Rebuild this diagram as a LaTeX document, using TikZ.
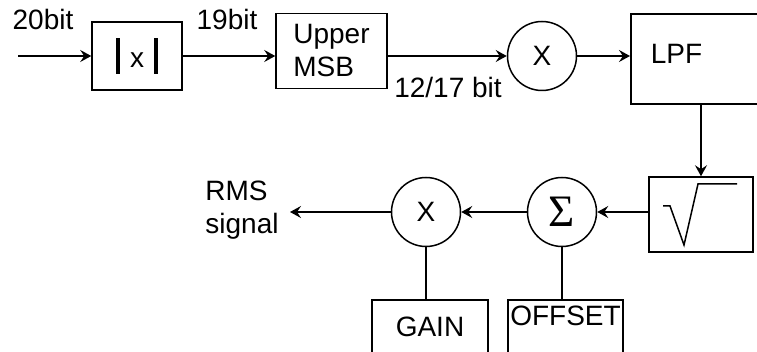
\documentclass[tikz,border=0pt]{standalone}
\usepackage{fontspec}
\setmainfont{Liberation Sans}
\newfontfamily\sigmafont{Liberation Serif}
\usetikzlibrary{arrows.meta}

\begin{document}
\begin{tikzpicture}[x=1pt,y=-1pt,line width=1.5pt,>={Stealth[length=11pt,width=12pt,inset=4pt]},
  font=\fontsize{28}{33}\selectfont,
  blk/.style={draw,inner sep=0pt},
  mix/.style={draw,circle,minimum size=69pt,inner sep=0pt}]
\useasboundingbox (0,0) rectangle (757,352);
\clip (0,0) rectangle (757,352);
% upper row
\coordinate (in) at (18,56);
\node[blk,minimum width=90pt,minimum height=68pt] (absv) at (137,56) {\rule[-6pt]{4pt}{36pt}\hspace{10pt}x\hspace{10pt}\rule[-6pt]{4pt}{36pt}};
\node[blk,minimum width=111pt,minimum height=75pt,align=left] (msb) at (331.5,51) {Upper\\MSB};
\node[mix] (mul1) at (542,56) {X};
\node[blk,minimum width=170pt,minimum height=90pt,text width=130pt,inner xsep=20pt,text height=20pt,text depth=10pt,align=left,anchor=west] (lpf) at (630,59) {LPF};
\node (b20) at (43,19) {20bit};
\node (b19) at (227,19) {19bit};
\node (b12) at (448,87) {12/17 bit};
% lower row
\node[blk,minimum width=104pt,minimum height=75pt] (sqrt) at (701,214.5) {};
\draw (663,206) -- (670,206) -- (684,245) -- (698,184) -- (737,184);
\node[mix] (sum) at (562,212) {\sigmafont\fontsize{45}{45}\selectfont Σ};
\node[mix] (mul2) at (426,212) {X};
\node[blk,minimum width=116pt,minimum height=80pt,text height=20pt,text depth=26pt] (gain) at (430,340) {GAIN};
\node[blk,minimum width=115pt,minimum height=80pt,text height=20pt,text depth=48pt] (offs) at (565.5,340) {OFFSET};
\node[align=left] (rms) at (242,210) {RMS\\signal};
\coordinate (out) at (290,212);
% connectors
\draw[->] (in) -- (absv);
\draw[->] (absv) -- (msb.west |- absv);
\draw[->] (msb.east |- mul1) -- (mul1);
\draw[->] (mul1) -- (lpf.west |- mul1);
\draw[->] (lpf.south -| sqrt) -- (sqrt);
\draw[->] (sqrt.west |- sum) -- (sum);
\draw[->] (sum) -- (mul2);
\draw[->] (mul2) -- (out);
\draw (sum) -- (offs.north -| sum);
\draw (mul2) -- (gain.north -| mul2);
\end{tikzpicture}
\end{document}
